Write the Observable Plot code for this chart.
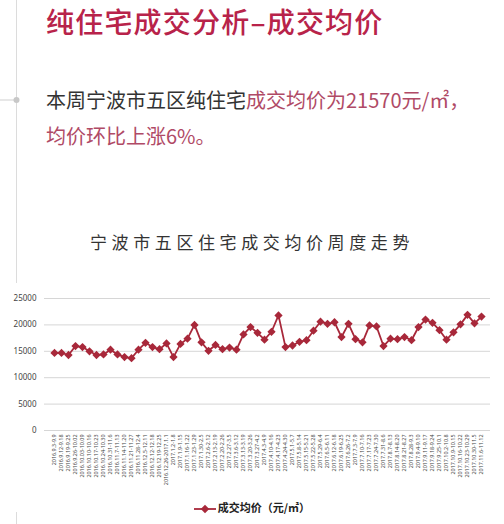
<!DOCTYPE html>
<html>
<head>
<meta charset="utf-8">
<script src="https://cdn.jsdelivr.net/npm/d3@7"></script>
<script src="https://cdn.jsdelivr.net/npm/@observablehq/plot@0.6"></script>
<style>
  html, body { margin: 0; padding: 0; background: #fff; }
  body { width: 504px; height: 524px; position: relative; overflow: hidden;
         font-family: "Noto Sans CJK SC", "Noto Sans", sans-serif; }
  .abs { position: absolute; white-space: nowrap; }
  #title { left: 46px; top: 1px; font-size: 28px; line-height: normal; letter-spacing: 1.2px;
           color: #b8234a; font-weight: 500; }
  .para { left: 46px; font-size: 20px; line-height: 28px; color: #333; }
  .pink { color: #b04a66; }
  #ctitle { left: 0; width: 504px; text-align: center; top: 229px; font-size: 17px; line-height: 26px;
            color: #333; letter-spacing: 4.6px; }
  #chart { left: 0; top: 288px; }
  #chart svg text { font-family: "Noto Sans", "DejaVu Sans", sans-serif; }
  #legend { left: 0; width: 504px; top: 497px; text-align: center; font-size: 11px; line-height: 20px;
            color: #222; font-weight: bold; }
  #legend svg { vertical-align: middle; margin-right: 2px; }
</style>
</head>
<body>
<svg class="abs" style="left:0;top:0" width="504" height="524">
  <line x1="16.5" y1="0" x2="16.5" y2="283" stroke="#dcdcdc" stroke-width="1"/>
  <line x1="16.5" y1="512" x2="16.5" y2="524" stroke="#dcdcdc" stroke-width="1"/>
  <line x1="0" y1="100" x2="16" y2="100" stroke="#cfcfcf" stroke-width="1"/>
  <circle cx="16.5" cy="100" r="3" fill="#c8c8c8"/>
</svg>
<div id="title" class="abs">纯住宅成交分析–成交均价</div>
<div class="abs para" style="top:86px">本周宁波市五区纯住宅<span class="pink">成交均价为21570元/㎡，</span></div>
<div class="abs para pink" style="top:122px">均价环比上涨6%。</div>
<div id="ctitle" class="abs">宁波市五区住宅成交均价周度走势</div>
<div id="chart" class="abs"></div>
<div id="legend" class="abs"></div>
<script>
const weeks = [
  "2016.9.3-9.9","2016.9.12-9.18","2016.9.19-9.25","2016.9.26-10.02","2016.10.03-10.09",
  "2016.10.10-10.16","2016.10.17-10.23","2016.10.24-10.30","2016.10.31-11.6","2016.11.7-11.13",
  "2016.11.14-11.20","2016.11.21-11.27","2016.11.28-12.4","2016.12.5-12.11","2016.12.12-12.18",
  "2016.12.19-12.25","2016.12.26-2017.1.1","2017.1.2-1.8","2017.1.9-1.15","2017.1.16-1.22",
  "2017.1.23-1.29","2017.1.30-2.5","2017.2.6-2.12","2017.2.13-2.19","2017.2.20-2.26",
  "2017.2.27-3.5","2017.3.6-3.12","2017.3.13-3.19","2017.3.20-3.26","2017.3.27-4.2",
  "2017.4.3-4.9","2017.4.10-4.16","2017.4.17-4.23","2017.4.24-4.30","2017.5.1-5.7",
  "2017.5.8-5.14","2017.5.15-5.21","2017.5.22-5.28","2017.5.29-6.4","2017.6.5-6.11",
  "2017.6.12-6.18","2017.6.19-6.25","2017.6.26-7.2","2017.7.3-7.9","2017.7.10-7.16",
  "2017.7.17-7.23","2017.7.24-7.30","2017.7.31-8.6","2017.8.7-8.13","2017.8.14-8.20",
  "2017.8.21-8.27","2017.8.28-9.3","2017.9.4-9.10","2017.9.11-9.17","2017.9.18-9.24",
  "2017.9.25-10.1","2017.10.2-10.8","2017.10.9-10.15","2017.10.16-10.22","2017.10.23-10.29",
  "2017.10.30-11.5","2017.11.6-11.12"
];
const prices = [
  14700,14700,14300,16000,15800,15000,14300,14400,15300,14400,
  13900,13700,15300,16600,15800,15400,16500,13900,16400,17400,
  20000,16700,15100,16200,15400,15700,15300,18200,19600,18500,
  17200,18700,21800,15800,16100,16800,17100,18900,20600,20200,
  20500,17700,20200,17300,16700,19900,19700,16000,17400,17300,
  17700,17100,19600,21000,20400,19000,17200,18600,20100,21900,
  20300,21570
];
const yTicks = [0, 5000, 10000, 15000, 20000, 25000];
const seriesName = "成交均价（元/㎡）";
const lineColor = "#a8283a";

const data = weeks.map((w, i) => ({week: w, price: prices[i]}));

const chart = Plot.plot({
  width: 504,
  height: 206,
  marginLeft: 44,
  marginRight: 14,
  marginTop: 10,
  marginBottom: 64,
  style: {background: "transparent"},
  x: {type: "point", domain: weeks, padding: 0.5},
  y: {domain: [0, 25000]},
  marks: [
    Plot.gridY(yTicks, {stroke: "#d6d6d6", strokeOpacity: 1, strokeWidth: 1}),
    Plot.axisY(yTicks, {tickSize: 0, tickPadding: 8, fontSize: 8, fill: "#444", label: null,
      tickFormat: d => String(d)}),
    Plot.axisX({tickSize: 0, tickPadding: 4, tickRotate: -90, fontSize: 5.4, fill: "#444", label: null}),
    Plot.line(data, {x: "week", y: "price", stroke: lineColor, strokeWidth: 1.8}),
    Plot.dot(data, {x: "week", y: "price", symbol: "square", rotate: 45, r: 3.3, fill: lineColor, stroke: "none"})
  ]
});
document.getElementById("chart").appendChild(chart);

document.getElementById("legend").innerHTML =
  `<svg width="22" height="10"><line x1="0" y1="5" x2="22" y2="5" stroke="${lineColor}" stroke-width="1.8"/>` +
  `<rect x="8" y="2" width="6" height="6" fill="${lineColor}" transform="rotate(45 11 5)"/></svg>` +
  `<span>${seriesName}</span>`;
</script>
</body>
</html>
